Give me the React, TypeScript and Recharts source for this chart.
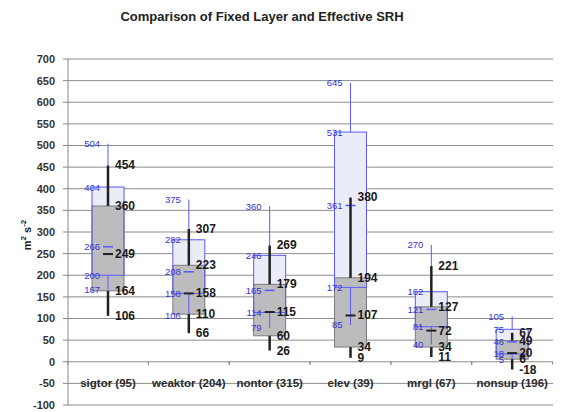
import { ComposedChart, Bar, XAxis, YAxis, CartesianGrid } from "recharts";

const categories = ["sigtor (95)", "weaktor (204)", "nontor (315)", "elev (39)", "mrgl (67)", "nonsup (196)"];

// fixed layer SRH percentiles (blue)
const fixedP10 = [167, 106, 79, 85, 40, 5];
const fixedP25 = [200, 158, 114, 172, 81, 18];
const fixedP50 = [266, 208, 165, 361, 121, 46];
const fixedP75 = [404, 282, 246, 531, 162, 75];
const fixedP90 = [504, 375, 360, 645, 270, 105];

// effective SRH percentiles (black)
const effP10 = [106, 66, 26, 9, 11, -18];
const effP25 = [164, 110, 60, 34, 34, 6];
const effP50 = [249, 158, 115, 107, 72, 20];
const effP75 = [360, 223, 179, 194, 127, 49];
const effP90 = [454, 307, 269, 380, 221, 67];

const yTicks = [-100, -50, 0, 50, 100, 150, 200, 250, 300, 350, 400, 450, 500, 550, 600, 650, 700];

const data = categories.map((cat, i) => ({
  cat,
  f: [fixedP10[i], fixedP25[i], fixedP50[i], fixedP75[i], fixedP90[i]],
  e: [effP10[i], effP25[i], effP50[i], effP75[i], effP90[i]],
}));

const W = 566;
const H = 412;
const M = { top: 59, right: 13, bottom: 7, left: 0 };
const Y_W = 68;
const BAND = (W - M.left - M.right - Y_W) / categories.length;

const FONT = "'Liberation Sans', Arial, sans-serif";
const BLUE = "#3434d4";
const BLUE_LINE = "#5a5aff";

const BlueFill = (props: any) => {
  const { x, y, width, height } = props;
  const top = Math.min(y, y + height);
  const h = Math.abs(height);
  return <rect x={x} y={top} width={width} height={h} fill="#eaecf8" />;
};

const Boxes = (props: any) => {
  const { x, y, width, height, payload } = props;
  const top = Math.min(y, y + height);
  const bot = Math.max(y, y + height);
  const lo = payload.e[0];
  const hi = payload.e[4];
  const pix = (v: number) => bot - ((v - lo) / (hi - lo)) * (bot - top);
  const c = x + width / 2;
  const f = payload.f;
  const e = payload.e;
  const zero = pix(0);
  return (
    <g>
      <rect x={x} y={pix(e[3])} width={width} height={pix(e[1]) - pix(e[3])} fill="#bcbcbe" stroke="#7c7c7c" strokeWidth={1} />
      <rect x={x} y={pix(f[3])} width={width} height={pix(f[1]) - pix(f[3])} fill="none" stroke={BLUE_LINE} strokeWidth={1} />
      <line x1={c} x2={c} y1={pix(f[3])} y2={pix(f[4])} stroke={BLUE_LINE} strokeWidth={1} />
      <line x1={c} x2={c} y1={pix(f[0])} y2={pix(f[1])} stroke={BLUE_LINE} strokeWidth={1} />
      <line x1={c - 5} x2={c + 5} y1={pix(f[2])} y2={pix(f[2])} stroke={BLUE_LINE} strokeWidth={1.5} />
      <line x1={c} x2={c} y1={pix(e[3])} y2={pix(e[4])} stroke="#222" strokeWidth={2.5} />
      <line x1={c} x2={c} y1={pix(e[0])} y2={pix(e[1])} stroke="#222" strokeWidth={2.5} />
      <line x1={c - 5} x2={c + 5} y1={pix(e[2])} y2={pix(e[2])} stroke="#222" strokeWidth={2} />
      {f.map((v: number, i: number) => (
        <text key={"f" + i} x={c - 8} y={pix(v)} textAnchor="end" dominantBaseline="central" fontFamily={FONT} fontSize={9.5} fill={BLUE}>
          {v}
        </text>
      ))}
      {e.map((v: number, i: number) => (
        <text key={"e" + i} x={c + 7} y={pix(v)} dominantBaseline="central" fontFamily={FONT} fontSize={12} fontWeight="bold" fill="#1a1a1a">
          {v}
        </text>
      ))}
      <line x1={c - BAND / 2} x2={c - BAND / 2} y1={zero} y2={zero + 3} stroke="#888" />
      <line x1={c + BAND / 2} x2={c + BAND / 2} y1={zero} y2={zero + 3} stroke="#888" />
      <text x={c} y={pix(-50)} textAnchor="middle" dominantBaseline="central" fontFamily={FONT} fontSize={11.5} fontWeight="bold" fill="#2a2a2a">
        {payload.cat}
      </text>
    </g>
  );
};

export default function App() {
  return (
    <div style={{ position: "absolute", left: 0, top: 0, width: W, height: H, background: "#fff" }}>
      <div
        style={{
          position: "absolute",
          left: 0,
          top: 9,
          width: 524,
          textAlign: "center",
          fontFamily: FONT,
          fontWeight: "bold",
          fontSize: 13,
          color: "#222",
        }}
      >
        Comparison of Fixed Layer and Effective SRH
      </div>
      <div
        style={{
          position: "absolute",
          left: 26,
          top: 235,
          transform: "translate(-50%, -50%) rotate(-90deg)",
          fontFamily: FONT,
          fontWeight: "bold",
          fontSize: 11,
          color: "#222",
          whiteSpace: "nowrap",
        }}
      >
        m<sup style={{ fontSize: 8 }}>2</sup> s<sup style={{ fontSize: 8 }}>-2</sup>
      </div>
      <ComposedChart width={W} height={H} data={data} margin={M}>
        <CartesianGrid vertical={false} stroke="#8c8c8c" />
        <XAxis xAxisId="a" dataKey="cat" hide />
        <XAxis xAxisId="b" dataKey="cat" hide />
        <YAxis
          width={Y_W}
          domain={[-100, 700]}
          ticks={yTicks}
          interval={0}
          allowDataOverflow
          tick={{ fontFamily: FONT, fontSize: 11, fontWeight: "bold", fill: "#333" }}
          tickSize={5}
          tickMargin={8}
          tickLine={{ stroke: "#888" }}
          axisLine={{ stroke: "#888" }}
        />
        <YAxis yAxisId="r" orientation="right" width={0} tick={false} tickLine={false} axisLine={{ stroke: "#ccc" }} domain={[-100, 700]} />
        <Bar xAxisId="a" dataKey={(d: any) => [d.f[1], d.f[3]]} barSize={32} shape={BlueFill} isAnimationActive={false} />
        <Bar xAxisId="b" dataKey={(d: any) => [d.e[0], d.e[4]]} barSize={32} shape={Boxes} isAnimationActive={false} />
      </ComposedChart>
    </div>
  );
}
